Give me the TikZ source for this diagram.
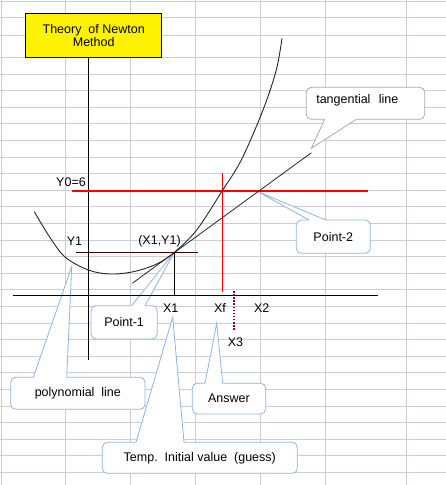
\documentclass[tikz,border=0pt]{standalone}
\usepackage{fontspec}
\setmainfont{Liberation Sans}
\usepackage{tikz}
\usetikzlibrary{calc}

\definecolor{gridgray}{RGB}{204,204,212}
\definecolor{calloutblue}{RGB}{141,180,227}
\definecolor{calloutgray}{RGB}{170,170,170}
\definecolor{darkmaroon}{RGB}{64,0,0}
\definecolor{dotpurple}{RGB}{128,0,64}

\tikzset{
  lbl/.style={font=\fontsize{12.5}{13.5}\selectfont, inner sep=0pt},
  callbox/.style={lbl, draw=calloutblue, fill=white, line width=0.8pt,
    rounded corners=5pt, outer sep=0pt, anchor=north west},
  wedgeline/.style={draw=calloutblue, line width=0.8pt},
  sheetline/.style={gridgray, line width=0.8pt},
  axis/.style={black, line width=1.2pt},
  curve/.style={black!85, line width=0.9pt},
}

% corner of box, base offsets along the edge, tip, inward step
\newcommand{\calloutwedge}[6][calloutblue]{%
  \fill[white] ($(#2)+(#3,#6)$) -- ($(#2)+(#3,0)$) -- (#5) -- ($(#2)+(#4,0)$) -- ($(#2)+(#4,#6)$) -- cycle;
  \draw[wedgeline, draw=#1] ($(#2)+(#3,0)$) -- (#5) -- ($(#2)+(#4,0)$);
}

\begin{document}
\begin{tikzpicture}[x=1pt, y=-1pt]
\useasboundingbox (0,0) rectangle (446,485);

% worksheet grid
\foreach \gx in {1.5,65.5,130.5,195.5,260.5,325.5,406.5}
  \draw[sheetline] (\gx,0) -- (\gx,485);
\foreach \gy in {1,17.3,35}
  \draw[sheetline] (0,\gy) -- (446,\gy);
\foreach \k in {0,...,25}
  \draw[sheetline] (0,57.3+16.6*\k) -- (446,57.3+16.6*\k);

% pointer tips
\coordinate (tantip) at (311.3,148.3);
\coordinate (ptwotip) at (258,191.7);
\coordinate (xyone) at (174.3,252.3);
\coordinate (polytip) at (71.7,266.7);
\coordinate (temptip) at (172.7,317.3);
\coordinate (anstip) at (216.7,323.3);

% callouts
\node[callbox, draw=calloutgray, minimum width=118.4pt, minimum height=32pt,
  text width=98.4pt, text depth=9pt, inner xsep=10pt, align=left] (tanbox) at (306.3,87.3) {tangential\ \ line};
\calloutwedge[calloutgray]{tanbox.south west}{18.4}{50}{tantip}{-1.2}

\node[callbox, minimum width=74pt, minimum height=33.3pt] (ptwo) at (296.3,220) {Point-2};
\calloutwedge{ptwo.north west}{12.7}{29.4}{ptwotip}{1.2}

\node[callbox, minimum width=66.3pt, minimum height=33.3pt] (pone) at (91,305.7) {Point-1};
\calloutwedge{pone.north west}{40.7}{54}{xyone}{1.2}

\node[callbox, minimum width=134.3pt, minimum height=32pt] (polybox) at (10.7,377.3) {polynomial\ \ line};
\calloutwedge{polybox.north west}{22.6}{56}{polytip}{1.2}

\node[callbox, minimum width=195pt, minimum height=31pt] (tempbox) at (102.3,442.3) {Temp.\ \ Initial value\ \ (guess)};
\calloutwedge{tempbox.north west}{33.7}{81.7}{temptip}{1.2}

\node[callbox, minimum width=73.4pt, minimum height=30.7pt] (ansbox) at (192.3,383.3) {Answer};
\calloutwedge{ansbox.north west}{12.7}{30.4}{anstip}{1.2}

% title
\node[lbl, draw=black, fill=yellow, line width=1pt, align=center, outer sep=0pt,
  minimum width=136pt, minimum height=44pt] (title) at (93.7,35.3) {Theory\ \ of Newton\\Method};

% axes
\coordinate (ytop) at (88.3,57.3);
\coordinate (ybot) at (88.3,360);
\coordinate (xleft) at (13.3,295.3);
\coordinate (xright) at (378,295.3);
\draw[axis] (ytop) -- (ybot);
\draw[axis] (xleft) -- (xright);

% Y0 and Xf
\draw[red, line width=2pt] (72.3,190.7) -- (368,190.7);
\draw[red, line width=1pt] (222.3,173) -- (222.3,292);

% Y1 level and X1 drop
\draw[darkmaroon, line width=1pt] (75.7,252.3) -- (197.7,252.3);
\draw[black, line width=1pt] (xyone) -- (174.3,295.3);

% X3
\draw[dotpurple, line width=1.6pt, dash pattern=on 1.5pt off 1.6pt] (233.7,291) -- (233.7,329.5);

% polynomial and tangent
\draw[curve] plot[smooth, tension=0.55] coordinates {(34.3,211.7) (49,236) (65,257) (88.3,270) (110,274) (133.3,271.7) (156.7,264) (174.3,252.3) (196.7,230) (222.3,190.7) (241.3,160) (263,110) (276.3,70) (282,38.3)};
\draw[curve, line width=0.8pt] ($(xyone)+(-42,31)$) -- ($(xyone)+(137,-99.5)$);

% labels
\node[lbl] (yzero) at (71,182.5) {Y0=6};
\node[lbl] (yone) at (74.5,241) {Y1};
\node[lbl] (xyonelbl) at (159.5,241) {(X1,Y1)};
\node[lbl] (xone) at (170.7,307.7) {X1};
\node[lbl] (xf) at (220,307.7) {Xf};
\node[lbl] (xtwo) at (261.7,307.7) {X2};
\node[lbl] (xthree) at (235.5,342) {X3};
\end{tikzpicture}
\end{document}
